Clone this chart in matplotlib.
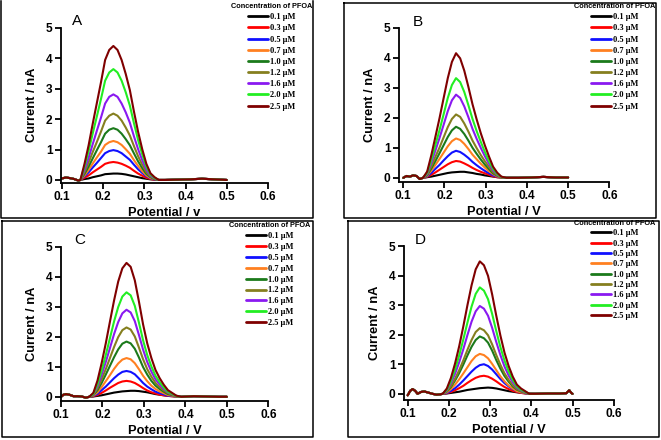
import matplotlib
matplotlib.use('Agg')
import matplotlib.pyplot as plt
from matplotlib.lines import Line2D

plt.rcParams['font.family'] = ['Liberation Sans', 'DejaVu Sans']

# ---------------- data ----------------
conc_labels = ['0.1 μM', '0.3 μM', '0.5 μM', '0.7 μM', '1.0 μM',
               '1.2 μM', '1.6 μM', '2.0 μM', '2.5 μM']
colors = ['#000000', '#ff0000', '#1010ff', '#ff8020', '#1b7a1b',
          '#857f1f', '#8a19f0', '#22ee22', '#7f0000']
panel_letters = ['A', 'B', 'C', 'D']
x_titles = ['Potential / v', 'Potential / V', 'Potential / V', 'Potential / V']
y_title = 'Current / nA'
legend_title = 'Concentration of PFOA'
x_ticks = [0.1, 0.2, 0.3, 0.4, 0.5, 0.6]
y_ticks = [0, 1, 2, 3, 4, 5]

# Panel A
xA_left = [0.100, 0.110, 0.120, 0.130, 0.140]
baseA_left = [0.05, 0.08, 0.06, 0.03, -0.02]
xA_peak = [0.145, 0.155, 0.165, 0.175, 0.185, 0.195, 0.205, 0.215, 0.225, 0.235,
           0.245, 0.255, 0.265, 0.275, 0.285, 0.295, 0.305, 0.315, 0.325, 0.335]
xA_right = [0.350, 0.380, 0.410, 0.440, 0.470, 0.500]
baseA_right = [0.00, 0.01, 0.02, 0.04, 0.02, 0.00]
A_curves = [
    [0, .03, .05, .09, .12, .15, .19, .20, .21, .21, .20, .18, .15, .12, .09, .06, .04, .02, .01, 0],
    [0, .07, .15, .25, .34, .43, .53, .57, .59, .57, .53, .47, .40, .30, .21, .14, .07, .03, .01, 0],
    [0, .12, .25, .41, .56, .72, .88, .95, .98, .95, .88, .77, .66, .50, .35, .23, .12, .05, .02, 0],
    [0, .15, .33, .54, .74, .93, 1.15, 1.24, 1.28, 1.24, 1.15, 1.01, .86, .65, .46, .29, .15, .06, .03, 0],
    [0, .20, .44, .71, .98, 1.24, 1.52, 1.65, 1.70, 1.65, 1.52, 1.34, 1.14, .87, .61, .39, .20, .09, .03, 0],
    [0, .26, .57, .92, 1.25, 1.59, 1.95, 2.11, 2.18, 2.11, 1.95, 1.72, 1.46, 1.11, .78, .50, .26, .11, .04, 0],
    [0, .34, .73, 1.18, 1.62, 2.05, 2.51, 2.73, 2.81, 2.73, 2.51, 2.22, 1.88, 1.43, 1.01, .65, .34, .14, .06, 0],
    [0, .44, .95, 1.53, 2.09, 2.66, 3.26, 3.53, 3.64, 3.53, 3.26, 2.88, 2.44, 1.86, 1.31, .84, .44, .18, .07, 0],
    [0, .53, 1.14, 1.85, 2.53, 3.21, 3.94, 4.27, 4.40, 4.27, 3.94, 3.48, 2.95, 2.24, 1.58, 1.01, .53, .22, .09, 0],
]

# Panel B
xB_left = [0.100, 0.108, 0.116, 0.124, 0.132, 0.140]
baseB_left = [0.00, 0.06, 0.04, 0.08, 0.06, -0.04]
xB_peak = [0.148, 0.158, 0.168, 0.178, 0.188, 0.198, 0.208, 0.218, 0.228, 0.238,
           0.248, 0.258, 0.268, 0.278, 0.288, 0.298, 0.308, 0.318, 0.328, 0.338]
xB_right = [0.350, 0.380, 0.410, 0.440, 0.470, 0.500]
baseB_right = [0.00, 0.00, 0.01, 0.03, 0.01, 0.01]
B_curves = [
    [0, .02, .04, .07, .10, .13, .16, .18, .19, .20, .20, .18, .16, .13, .11, .08, .06, .04, .02, .01],
    [0, .03, .10, .18, .27, .36, .45, .52, .56, .54, .48, .41, .33, .26, .20, .15, .10, .05, .02, .01],
    [0, .05, .16, .30, .43, .58, .72, .84, .90, .86, .77, .66, .53, .42, .32, .23, .15, .08, .04, .01],
    [0, .07, .24, .43, .63, .84, 1.05, 1.22, 1.31, 1.26, 1.13, .96, .77, .62, .47, .34, .22, .12, .05, .01],
    [0, .09, .31, .56, .82, 1.09, 1.36, 1.58, 1.70, 1.63, 1.46, 1.24, 1.00, .80, .61, .44, .29, .15, .07, .02],
    [0, .11, .38, .70, 1.01, 1.35, 1.69, 1.96, 2.11, 2.03, 1.81, 1.54, 1.24, .99, .76, .55, .36, .19, .08, .02],
    [0, .14, .50, .91, 1.33, 1.77, 2.22, 2.58, 2.77, 2.66, 2.38, 2.02, 1.63, 1.30, 1.00, .72, .47, .25, .11, .03],
    [0, .17, .60, 1.10, 1.59, 2.12, 2.66, 3.09, 3.32, 3.19, 2.86, 2.42, 1.96, 1.56, 1.20, .86, .56, .30, .13, .03],
    [0, .21, .75, 1.37, 1.99, 2.66, 3.32, 3.86, 4.15, 3.98, 3.57, 3.03, 2.45, 1.95, 1.49, 1.08, .71, .37, .17, .04],
]

# Panel C
xC_left = [0.100, 0.106, 0.112, 0.120, 0.130, 0.140, 0.150, 0.160]
baseC_left = [0.00, 0.07, 0.09, 0.07, 0.02, 0.02, 0.01, -0.03]
xC_peak = [0.168, 0.178, 0.188, 0.198, 0.208, 0.218, 0.228, 0.238, 0.248, 0.258, 0.268,
           0.278, 0.288, 0.298, 0.308, 0.318, 0.328, 0.338, 0.348, 0.358, 0.368, 0.378]
xC_right = [0.390, 0.420, 0.450, 0.480, 0.500]
baseC_right = [0.00, 0.02, 0.01, 0.00, 0.00]
C_curves = [
    [0, .01, .03, .05, .08, .11, .14, .16, .18, .19, .20, .20, .19, .17, .15, .12, .09, .07, .05, .03, .02, .01],
    [0, .02, .06, .13, .21, .30, .38, .46, .51, .53, .51, .46, .38, .29, .21, .15, .11, .07, .05, .03, .02, .01],
    [0, .03, .10, .22, .34, .48, .62, .74, .83, .86, .83, .75, .61, .46, .34, .25, .17, .12, .08, .04, .03, .01],
    [0, .04, .15, .32, .52, .72, .93, 1.11, 1.24, 1.29, 1.25, 1.12, .92, .70, .52, .37, .26, .18, .12, .06, .04, .01],
    [0, .06, .22, .46, .74, 1.03, 1.32, 1.58, 1.77, 1.84, 1.78, 1.60, 1.31, .99, .74, .53, .37, .26, .17, .09, .06, .02],
    [0, .07, .28, .58, .92, 1.29, 1.66, 1.99, 2.22, 2.31, 2.24, 2.01, 1.64, 1.25, .92, .67, .46, .32, .21, .12, .07, .02],
    [0, .09, .35, .73, 1.16, 1.62, 2.09, 2.49, 2.78, 2.90, 2.81, 2.52, 2.06, 1.57, 1.16, .84, .58, .41, .26, .15, .09, .03],
    [0, .10, .42, .87, 1.39, 1.95, 2.51, 2.99, 3.34, 3.48, 3.38, 3.03, 2.47, 1.88, 1.39, 1.01, .70, .49, .31, .17, .10, .03],
    [0, .13, .54, 1.12, 1.78, 2.50, 3.21, 3.84, 4.28, 4.46, 4.33, 3.88, 3.17, 2.41, 1.78, 1.29, .89, .62, .40, .22, .13, .04],
]

# Panel D
xD_left = [0.100, 0.106, 0.112, 0.118, 0.124, 0.132, 0.140, 0.150, 0.160, 0.170, 0.178]
baseD_left = [-0.05, 0.10, 0.16, 0.10, 0.00, 0.06, 0.08, 0.04, 0.00, -0.03, -0.02]
xD_peak = [0.185, 0.195, 0.205, 0.215, 0.225, 0.235, 0.245, 0.255, 0.265, 0.275, 0.285,
           0.295, 0.305, 0.315, 0.325, 0.335, 0.345, 0.355, 0.365, 0.375, 0.385, 0.395]
xD_right = [0.410, 0.440, 0.470, 0.485, 0.492, 0.497, 0.500]
baseD_right = [0.00, 0.01, 0.01, 0.02, 0.12, 0.03, 0.00]
D_curves = [
    [0, .01, .03, .05, .07, .10, .13, .15, .17, .19, .20, .21, .20, .18, .15, .12, .09, .07, .05, .03, .02, .01],
    [0, .02, .06, .12, .19, .27, .37, .46, .54, .59, .61, .58, .51, .42, .32, .23, .16, .10, .06, .03, .01, 0],
    [0, .03, .10, .19, .31, .45, .60, .75, .88, .97, 1.00, .94, .82, .66, .50, .36, .25, .16, .09, .05, .02, 0],
    [0, .05, .16, .31, .49, .69, .90, 1.11, 1.27, 1.35, 1.31, 1.20, 1.01, .80, .59, .42, .28, .18, .09, .05, .03, 0],
    [0, .08, .23, .45, .70, .99, 1.30, 1.59, 1.82, 1.94, 1.88, 1.73, 1.46, 1.14, .85, .60, .41, .25, .14, .08, .04, 0],
    [0, .09, .27, .51, .80, 1.13, 1.49, 1.82, 2.09, 2.22, 2.15, 1.98, 1.67, 1.31, .98, .69, .47, .29, .16, .09, .04, 0],
    [0, .12, .36, .68, 1.07, 1.51, 1.99, 2.44, 2.79, 2.97, 2.88, 2.64, 2.23, 1.75, 1.31, .92, .62, .39, .21, .12, .06, 0],
    [0, .14, .43, .83, 1.30, 1.84, 2.41, 2.95, 3.38, 3.60, 3.49, 3.20, 2.70, 2.12, 1.58, 1.12, .76, .47, .25, .14, .07, 0],
    [0, .18, .54, 1.03, 1.61, 2.28, 3.00, 3.67, 4.21, 4.48, 4.35, 3.99, 3.36, 2.64, 1.97, 1.39, .94, .58, .31, .18, .09, 0],
]

panels = [
    (xA_left, baseA_left, xA_peak, A_curves, xA_right, baseA_right),
    (xB_left, baseB_left, xB_peak, B_curves, xB_right, baseB_right),
    (xC_left, baseC_left, xC_peak, C_curves, xC_right, baseC_right),
    (xD_left, baseD_left, xD_peak, D_curves, xD_right, baseD_right),
]

# ---------------- layout (pixels of a 661x440 canvas) ----------------
W, H = 661, 440
fig = plt.figure(figsize=(W / 100, H / 100), dpi=100)
fig.patch.set_facecolor('white')

def fx(px):
    return px / W

def fy(py):
    return 1 - py / H

# axes: (left px, right px, top px, bottom px), xlim, ylim
ax_specs = [
    (61, 268, 27.7, 182.7, (0.098, 0.6), (-0.09, 5.0)),
    (399, 609.3, 27.7, 181.7, (0.0896, 0.6), (-0.13, 5.0)),
    (61, 268.3, 246.7, 401, (0.1, 0.6), (-0.14, 5.0)),
    (404, 613.7, 246, 400, (0.091, 0.6), (-0.21, 5.0)),
]
letter_pos = [(77, 21), (418, 22), (80, 240), (420, 240)]
legend_anchor = [(272, 3), (615, 3), (270, 222), (615, 220)]
legend_spacing = [0.38, 0.38, 0.35, 0.28]

# panel frames
frame_lines = [
    [(1, 1), (1, 218), (313, 218), (313, 1)],
    [(344, 3), (344, 218), (656, 218), (656, 3), (344, 3)],
    [(2, 221), (2, 437), (313, 437), (313, 221), (2, 221)],
    [(348, 221), (348, 437), (659, 437), (659, 221), (348, 221)],
]
for pts in frame_lines:
    fig.add_artist(Line2D([fx(p[0]) for p in pts], [fy(p[1]) for p in pts],
                          transform=fig.transFigure, color='black', lw=1.1))

for i, (spec, data) in enumerate(zip(ax_specs, panels)):
    l, r, t, b, xl, yl = spec
    ax = fig.add_axes([fx(l), fy(b), fx(r - l), (b - t) / H])
    xl_left, base_l, x_peak, curves, x_right, base_r = data
    xs = xl_left + x_peak + x_right
    for c, col, lab in zip(curves, colors, conc_labels):
        ys = base_l + c + base_r
        ax.plot(xs, ys, color=col, lw=1.5, label=lab, solid_capstyle='round')
    ax.set_xlim(*xl)
    ax.set_ylim(*yl)
    ax.set_xticks(x_ticks)
    ax.set_xticklabels(['%.1f' % v for v in x_ticks])
    ax.set_yticks(y_ticks)
    for s in ['top', 'right']:
        ax.spines[s].set_visible(False)
    for s in ['left', 'bottom']:
        ax.spines[s].set_linewidth(1.3)
    ax.spines['left'].set_bounds(yl[0], 5)
    ax.tick_params(direction='out', length=4, width=1.3, labelsize=8.6, pad=2)
    for lbl in ax.get_xticklabels() + ax.get_yticklabels():
        lbl.set_fontweight('bold')
    ax.set_xlabel(x_titles[i], fontsize=9.3, fontweight='bold', labelpad=2.5)
    ax.set_ylabel(y_title, fontsize=9.3, fontweight='bold', labelpad=6)
    ax.patch.set_alpha(0)

    fig.text(fx(letter_pos[i][0]), fy(letter_pos[i][1]), panel_letters[i],
             fontsize=11, ha='center', va='center')

    ax_ = legend_anchor[i]
    leg = ax.legend(loc='upper center', bbox_to_anchor=(fx(ax_[0]), fy(ax_[1])),
                    bbox_transform=fig.transFigure, frameon=False,
                    borderpad=0, borderaxespad=0, handlelength=2.4,
                    handletextpad=0.2, labelspacing=legend_spacing[i],
                    prop={'family': 'Liberation Serif', 'weight': 'bold', 'size': 6.0},
                    title=legend_title,
                    title_fontproperties={'family': 'Liberation Sans', 'weight': 'bold', 'size': 5.3})
    for h in leg.legend_handles:
        h.set_linewidth(2.0)

fig.savefig('out.png', dpi=100, facecolor='white')
